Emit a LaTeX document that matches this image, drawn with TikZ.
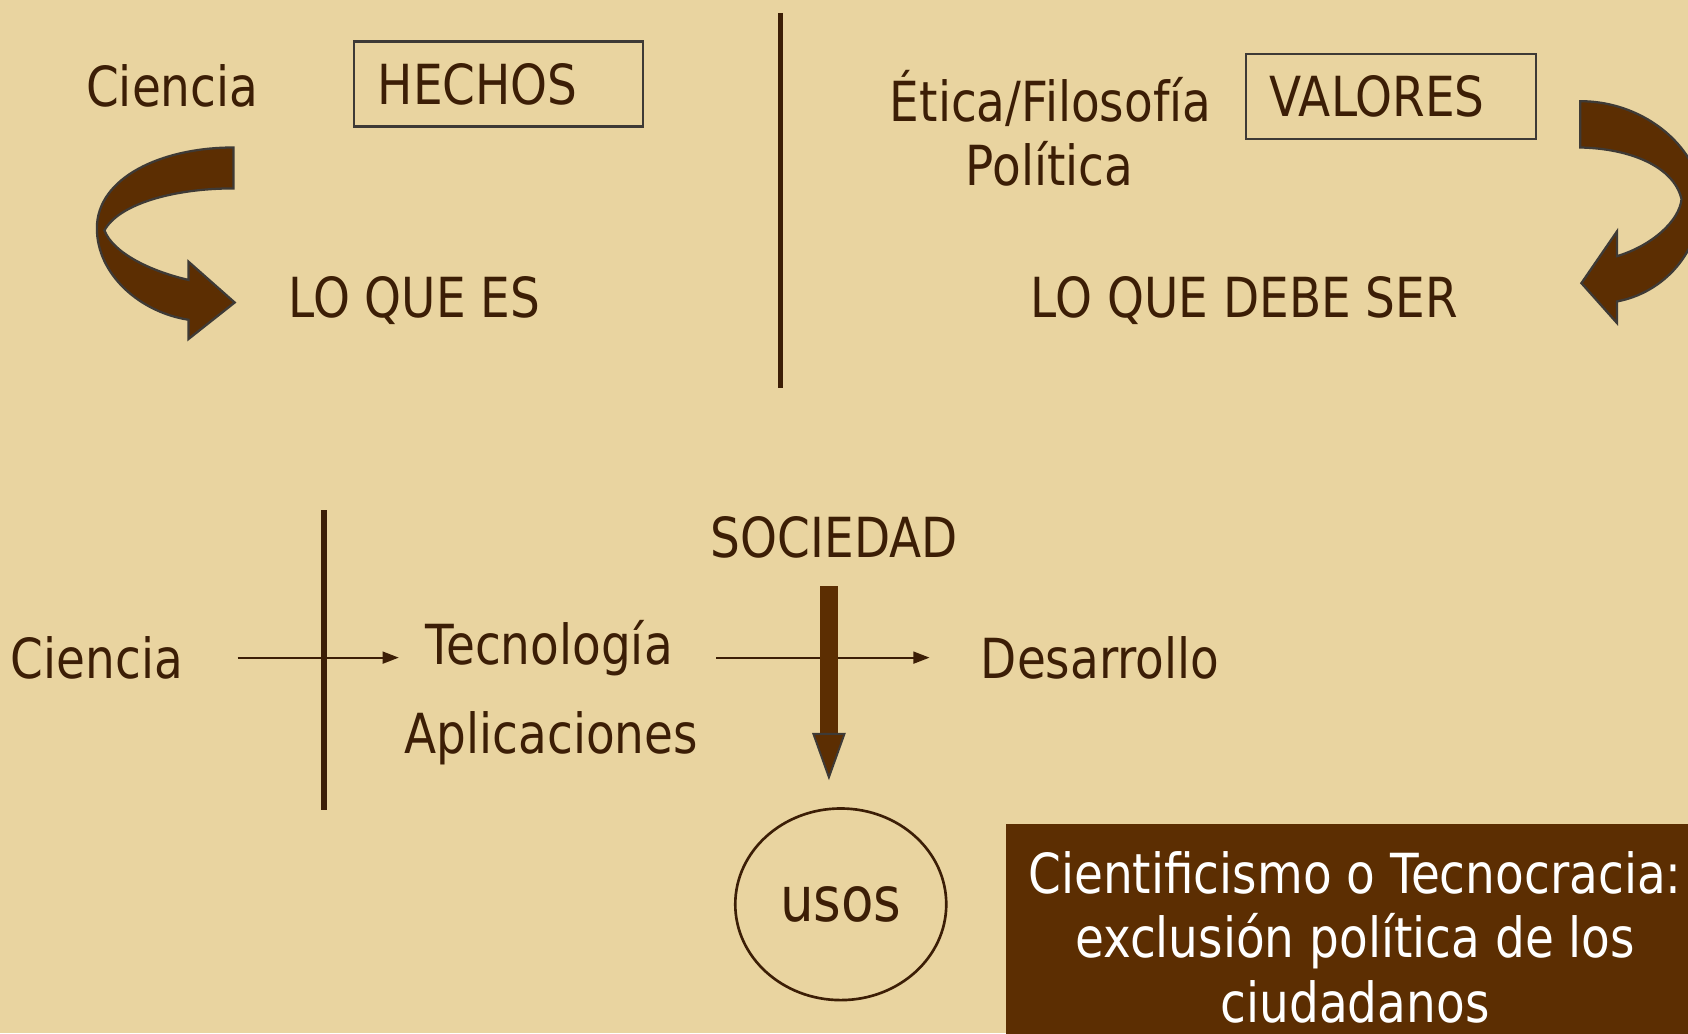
\documentclass[tikz,border=0pt]{standalone}
\usepackage{fontspec}
\setmainfont{DejaVu Sans}[FakeStretch=0.85]
\usepackage{tikz}
\usetikzlibrary{shapes.geometric, arrows.meta, positioning}

\definecolor{parchment}{RGB}{233,212,160}
\definecolor{inkbrown}{RGB}{60,30,6}
\definecolor{barkbrown}{RGB}{92,46,2}
\definecolor{rimgray}{RGB}{62,58,54}

\newcommand\slidefont{\fontsize{14.6}{17}\selectfont}

\begin{document}
\begin{tikzpicture}[x=0.1mm, y=-0.1mm, font=\slidefont]

        % Define styles
        \tikzstyle{word} = [text=inkbrown, inner sep=0pt, anchor=base]
        \tikzstyle{framed} = [rectangle, draw=rimgray, line width=0.6pt, text=inkbrown, minimum height=7.9mm, inner xsep=2.2mm, align=left]
        \tikzstyle{line} = [draw=inkbrown, line width=0.55pt, -{Triangle[length=1.5mm, width=1.1mm]}]
        \tikzstyle{divider} = [draw=inkbrown, line width=1.4pt]
        \tikzstyle{curlarrow} = [fill=barkbrown, draw=rimgray, line width=0.6pt]
        \tikzstyle{fatarrow} = [draw=barkbrown, line width=1.6mm, -{Triangle[length=4.4mm, width=3.1mm, color=rimgray, fill=barkbrown, line width=0.5pt]}]
        \tikzstyle{verdict} = [rectangle, fill=barkbrown, text=white, align=center, anchor=north west, minimum width=64.8mm, minimum height=21mm, inner sep=0pt]

        % Background
        \useasboundingbox (0,0) rectangle (1568,960);
        \clip (0,0) rectangle (1568,960);
        \fill [parchment] (0,0) rectangle (1568,960);

        % Place nodes
        \node [word] (ciencia) at (160,99) {Ciencia};
        \node [framed, text width=22.4mm, minimum width=26.8mm] (hechos) at (463,78) {HECHOS};
        \node [word] (loquees) at (385,295) {LO QUE ES};
        \node [word] (etica) at (976,113) {Ética/Filosofía};
        \node [word] (politica) at (975,172) {Política};
        \node [framed, text width=22.5mm, minimum width=26.9mm] (valores) at (1292,89.5) {VALORES};
        \node [word] (debeser) at (1156,295) {LO QUE DEBE SER};

        \node [word] (sociedad) at (775,518) {SOCIEDAD};
        \node [word] (ciencia2) at (90,630) {Ciencia};
        \node [word] (tecno) at (510,617) {Tecnología};
        \node [word] (aplic) at (512,700) {Aplicaciones};
        \node [word] (desarrollo) at (1022,630) {Desarrollo};
        \node [ellipse, draw=inkbrown, line width=0.7pt, minimum width=19.6mm, minimum height=17.8mm, text=inkbrown, font=\fontsize{16.5}{19}\selectfont] (usos) at (781,840) {usos};
        \node [verdict] (conclusion) at (934,765) {Cientificismo o Tecnocracia:\\ exclusión política de los\\ ciudadanos};

        % Dividers
        \coordinate (divtop) at (725,12);
        \coordinate (divbot) at (725,360);
        \coordinate (crosstop) at (301,474);
        \coordinate (crossbot) at (301,752);
        \path [divider] (divtop) -- (divbot);
        \path [divider] (crosstop) -- (crossbot);

        % Curved arrows
        \path [curlarrow] (217,137) .. controls (150,137) and (90,165) .. (90,212) .. controls (90,255) and (130,290) .. (175,297) -- (175,315) -- (218,281) -- (175,243) -- (175,260) .. controls (140,252) and (105,235) .. (97,214) .. controls (110,190) and (160,175) .. (217,175) -- cycle;
        \path [curlarrow] (1468,94) .. controls (1530,94) and (1580,140) .. (1580,185) .. controls (1580,235) and (1545,272) .. (1502,280) -- (1502,300) -- (1469,263) -- (1502,215) -- (1502,238) .. controls (1535,228) and (1560,205) .. (1562,185) .. controls (1555,155) and (1515,138) .. (1468,137) -- cycle;

        % Draw edges
        \path [line, shorten <=5mm, shorten >=2.4mm] (ciencia2.east) -- (ciencia2.east -| tecno.west);
        \path [line, shorten <=4mm, shorten >=4.7mm] (tecno.east |- desarrollo.west) -- (desarrollo.west);
        \path [fatarrow, shorten <=2.5mm, shorten >=2.5mm] ([xshift=-0.5mm]sociedad.south) -- ([xshift=-0.5mm]sociedad.south |- usos.north);

\end{tikzpicture}
\end{document}
